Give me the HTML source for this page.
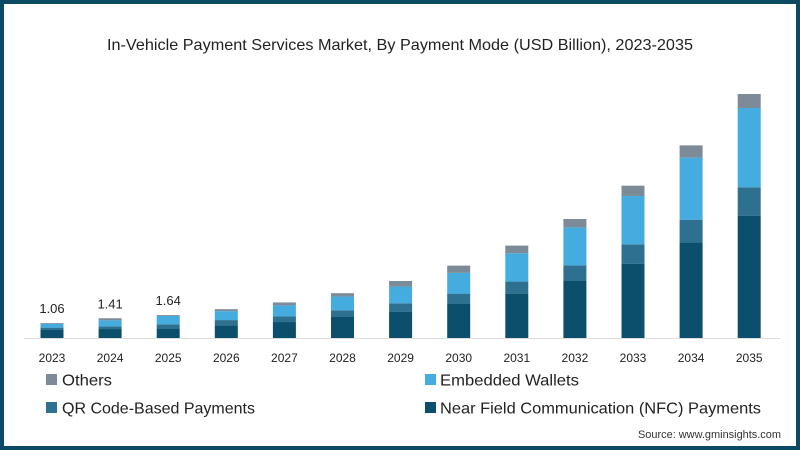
<!DOCTYPE html>
<html><head><meta charset="utf-8"><style>
html,body{margin:0;padding:0;background:#fff}
svg{display:block;font-family:"Liberation Sans",sans-serif}
</style></head><body>
<svg id="chart" width="800" height="450" viewBox="0 0 800 450" xmlns="http://www.w3.org/2000/svg">
<rect x="2" y="2" width="796" height="446" fill="#fff" stroke="#0b4a63" stroke-width="4"/>
<text x="400" y="50" text-anchor="middle" font-size="16" fill="#222" textLength="586" lengthAdjust="spacingAndGlyphs">In-Vehicle Payment Services Market, By Payment Mode (USD Billion), 2023-2035</text>
<line x1="24" y1="338.5" x2="780" y2="338.5" stroke="#ddd" stroke-width="1"/>
<g id="bars"></g>
<g id="labels"></g>
<g>
<rect x="46" y="374" width="11" height="11" fill="#7d8b99"/>
<text x="62" y="385.5" font-size="16" fill="#222" textLength="50" lengthAdjust="spacingAndGlyphs">Others</text>
<rect x="425" y="374" width="11" height="11" fill="#45ace0"/>
<text x="440" y="385.5" font-size="16" fill="#222" textLength="139" lengthAdjust="spacingAndGlyphs">Embedded Wallets</text>
<rect x="46" y="402" width="11" height="11" fill="#2d7090"/>
<text x="62" y="413.5" font-size="16" fill="#222" textLength="193" lengthAdjust="spacingAndGlyphs">QR Code-Based Payments</text>
<rect x="425" y="402" width="11" height="11" fill="#0b4f6c"/>
<text x="440" y="413.5" font-size="16" fill="#222" textLength="321" lengthAdjust="spacingAndGlyphs">Near Field Communication (NFC) Payments</text>
</g>
<text x="781" y="438" text-anchor="end" font-size="11" fill="#333" textLength="143" lengthAdjust="spacingAndGlyphs">Source: www.gminsights.com</text>
</svg>
<script>
const years = ["2023","2024","2025","2026","2027","2028","2029","2030","2031","2032","2033","2034","2035"];
const nfc = [0.57,0.64,0.69,0.90,1.14,1.50,1.86,2.43,3.17,4.12,5.29,6.83,8.74];
const qr = [0.17,0.19,0.29,0.38,0.40,0.48,0.62,0.74,0.86,1.07,1.40,1.62,2.02];
const wallets = [0.26,0.43,0.60,0.64,0.79,0.98,1.19,1.48,2.02,2.71,3.45,4.43,5.67];
const others = [0.06,0.15,0.06,0.14,0.21,0.24,0.40,0.52,0.55,0.60,0.74,0.88,1.00];
const totalLabels = ["1.06","1.41","1.64"];

const NS="http://www.w3.org/2000/svg";
const baseY=338, pxPerB=14, x0=52, step=58.1, barW=23;
const xPos=i=>x0+i*step;
const yPos=v=>baseY-v*pxPerB;
const series=[
 {name:"nfc",data:nfc,color:"#0b4f6c"},
 {name:"qr",data:qr,color:"#2d7090"},
 {name:"wallets",data:wallets,color:"#45ace0"},
 {name:"others",data:others,color:"#7d8b99"}];
const gb=document.getElementById('bars'), gl=document.getElementById('labels');
years.forEach((yr,i)=>{
  let cum=0;
  series.forEach(s=>{
    const v=s.data[i];
    const r=document.createElementNS(NS,'rect');
    
    
    r.setAttribute('x',xPos(i)-barW/2);
    r.setAttribute('y',yPos(cum+v));
    r.setAttribute('width',barW);
    r.setAttribute('height',v*pxPerB);
    r.setAttribute('fill',s.color);
    gb.appendChild(r);
    cum+=v;
  });
  const t=document.createElementNS(NS,'text');
  
  
  t.setAttribute('x',xPos(i));t.setAttribute('y',362);
  t.setAttribute('text-anchor','middle');t.setAttribute('font-size','12');t.setAttribute('fill','#222');
  t.textContent=yr;gl.appendChild(t);
  if(i<totalLabels.length){
    const l=document.createElementNS(NS,'text');
    
    
    l.setAttribute('x',xPos(i));l.setAttribute('y',yPos(cum)-10);
    l.setAttribute('text-anchor','middle');l.setAttribute('font-size','13');l.setAttribute('fill','#222');
    l.textContent=totalLabels[i];gl.appendChild(l);
  }
});
</script>
</body></html>
